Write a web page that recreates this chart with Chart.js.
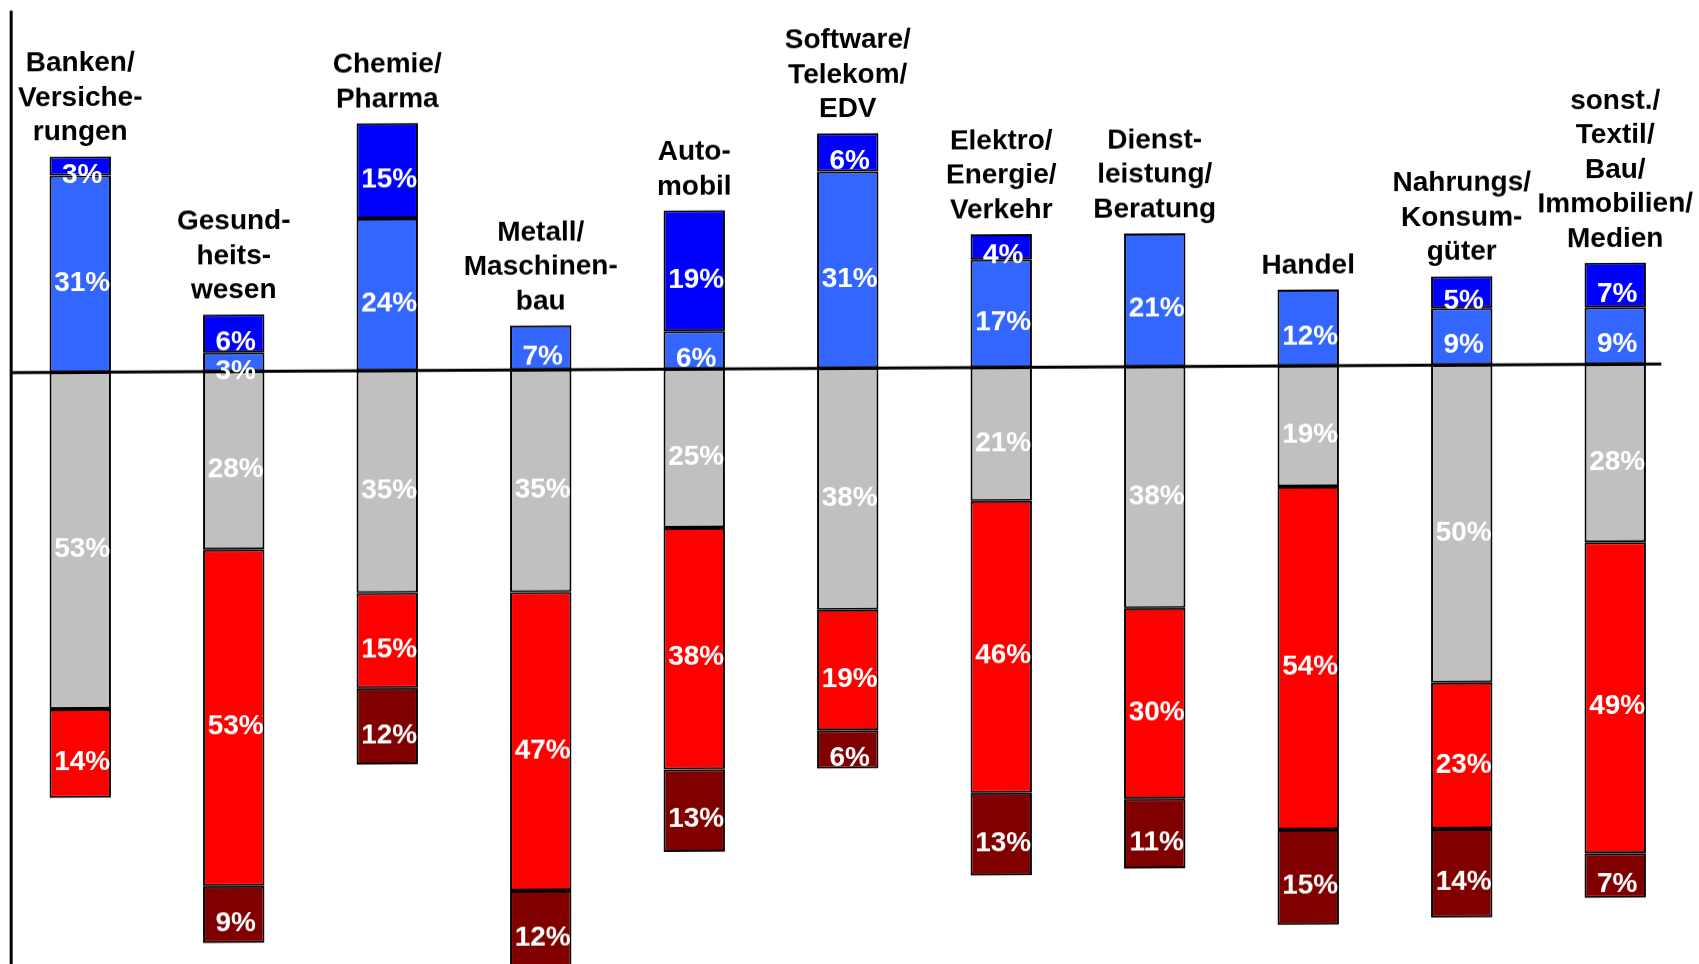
<!DOCTYPE html>
<html><head><meta charset="utf-8">
<script src="https://cdn.jsdelivr.net/npm/chart.js@4.4.0/dist/chart.umd.min.js"></script>
<style>html,body{margin:0;padding:0;background:#fff;overflow:hidden}#wrap{width:1699px;height:964px;position:relative;transform:skewY(-0.3deg);transform-origin:50% 38%}</style>
</head><body><div id="wrap"><canvas id="c"></canvas></div>
<script>
const categories = [
  ["Banken/","Versiche-","rungen"],
  ["Gesund-","heits-","wesen"],
  ["Chemie/","Pharma"],
  ["Metall/","Maschinen-","bau"],
  ["Auto-","mobil"],
  ["Software/","Telekom/","EDV"],
  ["Elektro/","Energie/","Verkehr"],
  ["Dienst-","leistung/","Beratung"],
  ["Handel"],
  ["Nahrungs/","Konsum-","güter"],
  ["sonst./","Textil/","Bau/","Immobilien/","Medien"]
];
const lightBlue = [31, 3, 24, 7, 6, 31, 17, 21, 12, 9, 9];
const darkBlue  = [3, 6, 15, null, 19, 6, 4, null, null, 5, 7];
const gray      = [-53, -28, -35, -35, -25, -38, -21, -38, -19, -50, -28];
const red       = [-14, -53, -15, -47, -38, -19, -46, -30, -54, -23, -49];
const darkRed   = [null, -9, -12, -12, -13, -6, -13, -11, -15, -14, -7];

const FONT = '"Liberation Sans", Arial, Helvetica, sans-serif';

const labelPlugin = {
  id: 'labels',
  afterDatasetsDraw(chart) {
    const ctx = chart.ctx;
    const xs = chart.scales.x, ys = chart.scales.y;
    ctx.save();
    ctx.strokeStyle = '#000';
    ctx.lineWidth = 3;
    ctx.beginPath();
    const y0 = ys.getPixelForValue(0);
    ctx.moveTo(xs.getPixelForValue(-0.45), y0);
    ctx.lineTo(xs.getPixelForValue(10.3), y0);
    ctx.stroke();
    ctx.beginPath();
    const vx = xs.getPixelForValue(-0.45);
    ctx.moveTo(vx, ys.getPixelForValue(57));
    ctx.lineTo(vx, chart.height);
    ctx.stroke();
    ctx.fillStyle = '#fff';
    ctx.font = 'bold 28px ' + FONT;
    ctx.textAlign = 'center';
    ctx.textBaseline = 'middle';
    chart.data.datasets.forEach((ds, di) => {
      const meta = chart.getDatasetMeta(di);
      meta.data.forEach((el, i) => {
        const v = ds.data[i];
        if (v === null || v === undefined) return;
        const cy = (el.y + el.base) / 2 + 9;
        ctx.fillText(Math.abs(v) + '%', el.x + 2, cy);
      });
    });
    ctx.fillStyle = '#000';
    ctx.textBaseline = 'alphabetic';
    categories.forEach((lines, i) => {
      const pos = (lightBlue[i] || 0) + (darkBlue[i] || 0);
      const top = ys.getPixelForValue(pos);
      const cx = xs.getPixelForValue(i);
      for (let k = 0; k < lines.length; k++) {
        const line = lines[lines.length - 1 - k];
        ctx.fillText(line, cx, top - 16 - k * 34.5);
      }
    });
    ctx.restore();
  }
};

const common = { borderColor: '#000', borderWidth: 2, borderSkipped: false, stack: 's' };

new Chart(document.getElementById('c'), {
  type: 'bar',
  data: {
    labels: categories,
    datasets: [
      Object.assign({ label: 'lightBlue', data: lightBlue, backgroundColor: '#3366FF' }, common),
      Object.assign({ label: 'darkBlue', data: darkBlue, backgroundColor: '#0000FF' }, common),
      Object.assign({ label: 'gray', data: gray, backgroundColor: '#C0C0C0' }, common),
      Object.assign({ label: 'red', data: red, backgroundColor: '#FF0000' }, common),
      Object.assign({ label: 'darkRed', data: darkRed, backgroundColor: '#800000' }, common)
    ]
  },
  options: {
    responsive: true,
    maintainAspectRatio: false,
    animation: false,
    barPercentage: 0.4,
    categoryPercentage: 1,
    layout: { padding: { left: 3.5, right: 7, top: 0, bottom: 0 } },
    plugins: { legend: { display: false }, tooltip: { enabled: false }, title: { display: false } },
    scales: {
      x: { stacked: true, display: false, offset: true },
      y: { stacked: true, display: false, min: -93.8, max: 58 }
    }
  },
  plugins: [labelPlugin]
});
</script>
</body></html>
